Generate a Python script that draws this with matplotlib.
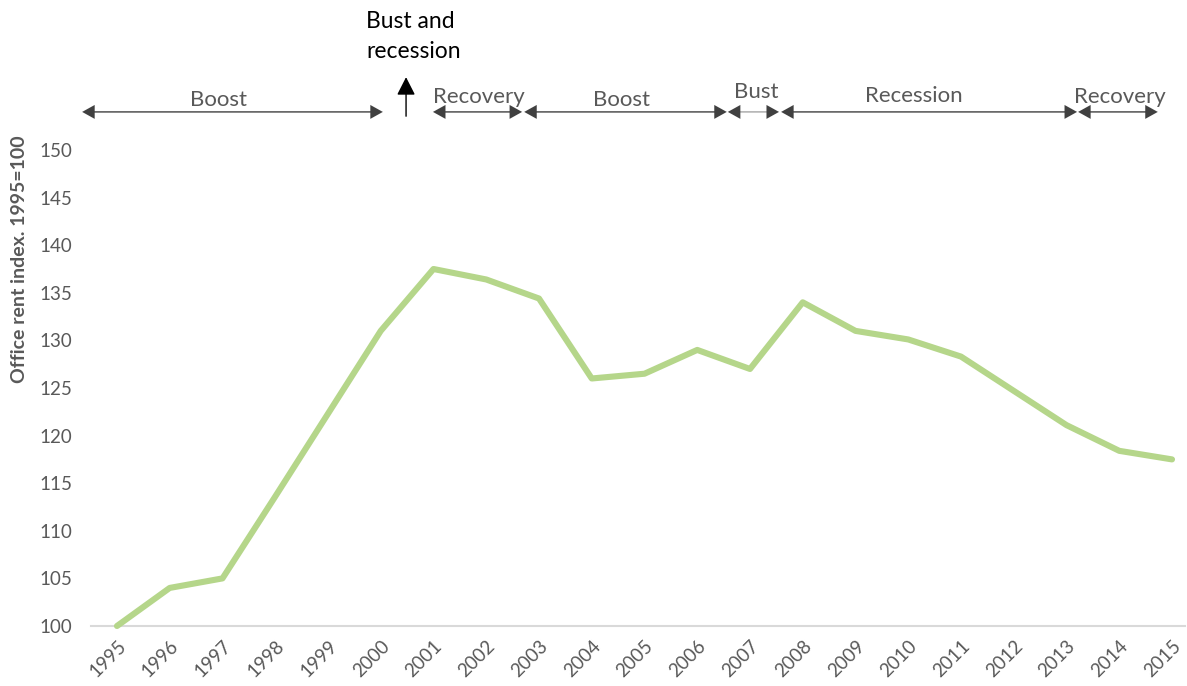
import matplotlib
matplotlib.use("Agg")
import matplotlib.pyplot as plt

plt.rcParams['font.family'] = ['Lato', 'DejaVu Sans']

# Office rent index, 1995 = 100
years = [str(y) for y in range(1995, 2016)]
rent_index = [100, 104, 105, 113.6, 122.3, 131, 137.5, 136.4, 134.4, 126, 126.5,
              129, 127, 134, 131, 130.1, 128.3, 124.7, 121.1, 118.4, 117.5]
y_ticks = [100, 105, 110, 115, 120, 125, 130, 135, 140, 145, 150]

# Market phases shown above the chart (label, start, end on the year axis)
phase_labels = ["Boost", "Recovery", "Boost", "Bust", "Recession", "Recovery"]
phase_starts = [-0.66, 5.99, 7.72, 11.58, 12.59, 18.22]
phase_ends = [5.04, 7.68, 11.56, 12.55, 18.20, 19.73]
phase_text_x = [1.93, 6.86, 9.57, 12.11, 15.11, 19.01]
phase_text_y = [1.106, 1.112, 1.106, 1.121, 1.114, 1.112]

event_label = "Bust and\nrecession"
event_x = 5.48

W, H = 1187, 686
fig = plt.figure(figsize=(W / 100, H / 100), dpi=100)
ax = fig.add_axes([90.6 / W, 60 / H, (1185.2 - 90.6) / W, 476 / H])

xs = list(range(len(years)))
ax.plot(xs, rent_index, color="#b5d68a", lw=4.4, solid_joinstyle="round",
        solid_capstyle="round", clip_on=False, zorder=3)

ax.set_xlim(-0.5, 20.25)
ax.set_ylim(100, 150)
ax.set_yticks(y_ticks)
ax.set_xticks(xs)
ax.set_xticklabels(years, rotation=45, ha="right", va="top", rotation_mode="anchor")

for s in ["top", "right", "left"]:
    ax.spines[s].set_visible(False)
ax.spines["bottom"].set_color("#d9d9d9")
ax.spines["bottom"].set_linewidth(1.5)
ax.tick_params(axis="both", length=0, labelsize=13.5, labelcolor="#595959")
ax.tick_params(axis="y", pad=13)
ax.tick_params(axis="x", pad=8)

ax.set_ylabel("Office rent index. 1995=100", fontsize=14, fontweight="bold",
              color="#595959")
ax.yaxis.set_label_coords(-0.0575, 0.77)

tr = ax.get_xaxis_transform()
arrow_y = 1.08
for lab, x0, x1, tx, ty in zip(phase_labels, phase_starts, phase_ends,
                               phase_text_x, phase_text_y):
    shaft = "#a6a6a6" if lab == "Bust" else "#404040"
    ax.annotate("", xy=(x1, arrow_y), xytext=(x0, arrow_y), xycoords=tr,
                textcoords=tr, annotation_clip=False,
                arrowprops=dict(arrowstyle="-", color=shaft, lw=1.0,
                                shrinkA=6, shrinkB=6))
    ax.annotate("", xy=(x1, arrow_y), xytext=(x0, arrow_y), xycoords=tr,
                textcoords=tr, annotation_clip=False,
                arrowprops=dict(arrowstyle="<|-|>,head_length=0.45,head_width=0.25",
                                color="#404040", lw=0.01, shrinkA=0, shrinkB=0,
                                mutation_scale=20))
    ax.text(tx, ty, lab, transform=tr, ha="center", va="center",
            fontsize=16, color="#595959")

ax.annotate("", xy=(event_x, 1.153), xytext=(event_x, 1.071), xycoords=tr,
            textcoords=tr, annotation_clip=False,
            arrowprops=dict(arrowstyle="-|>,head_length=0.55,head_width=0.28",
                            color="black", lw=1.0, shrinkA=0, shrinkB=0,
                            mutation_scale=20))
ax.text(4.72, 1.293, event_label, transform=tr, ha="left", va="top",
        fontsize=16.5, color="black", linespacing=1.55)

fig.savefig("out.png", dpi=100)
